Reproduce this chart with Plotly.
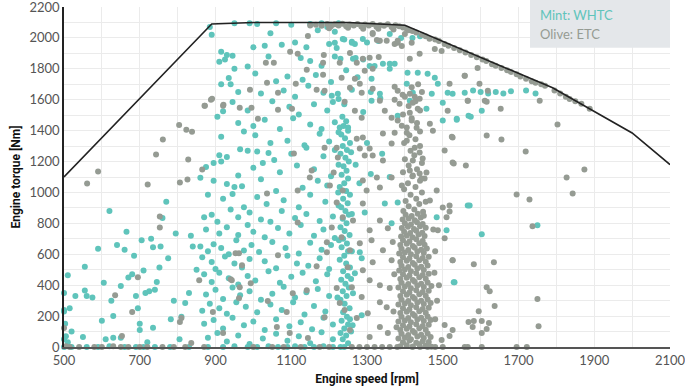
import plotly.graph_objects as go

# ---------------- data ----------------
# Full-load torque curve
fullload_speed = [500, 890, 1000, 1250, 1400, 1790, 2000, 2100]
fullload_torque = [1100, 2090, 2100, 2100, 2082, 1677, 1385, 1180]

# WHTC (mint) operating points: (speed rpm, torque Nm)
whtc_main = [
    (885,2070),(890,2020),(950,2095),(990,2095),(1010,2090),(1060,2095),(1100,2085),(1150,2090),(1180,2095),(1205,2085),(1225,2095),(1045,2030),(1170,2050),(1195,2070),(1215,2040),
    (915,1910),(930,1890),(945,1885),(1000,1940),(1030,1950),(1075,1955),(1110,1970),(1140,1940),(1200,1960),(1220,1935),(1240,1990),(1260,1975),
    (910,1845),(925,1860),(950,1800),(985,1815),(1040,1880),(1125,1870),(1150,1850),(1180,1820),(1215,1880),(1230,1865),(1270,1870),(1290,1860),
    (935,1740),(1005,1770),(1060,1720),(1090,1750),(1130,1730),(1165,1760),(1205,1715),(1245,1790),(1275,1745),
    (915,1700),(940,1700),(960,1650),(1020,1640),(1080,1660),(1110,1620),(1145,1690),(1185,1645),(1225,1605),(1260,1665),(1310,1650),(1335,1610),
    (920,1525),(945,1585),(985,1530),(1050,1590),(1095,1555),(1120,1505),(1160,1570),(1195,1530),(1210,1585),(1240,1570),(1290,1520),
    (905,1490),(960,1450),(1000,1430),(1030,1470),(1070,1410),(1105,1480),(1150,1440),(1180,1410),(1215,1455),(1250,1420),
    (915,1360),(975,1395),(1005,1370),(1045,1320),(1090,1335),(1135,1305),(1175,1380),(1200,1330),(1225,1390),
    (910,1240),(930,1230),(965,1280),(985,1270),(1010,1265),(1040,1255),(1055,1210),(1100,1250),(1140,1290),(1185,1235),(1215,1275),
    (875,1165),(895,1190),(915,1200),(960,1110),(1000,1160),(1025,1190),(1070,1130),(1115,1175),(1160,1150),(1205,1105),
    (860,1095),(895,1075),(930,1055),(950,1035),(970,1040),(1020,1085),(1060,1010),(1130,1030),(1170,1075),(1195,1045),
    (880,985),(920,960),(945,990),(975,905),(1010,970),(1035,925),(1080,950),(1120,905),(1150,985),(1190,940),(1225,915),
    (870,840),(890,855),(905,810),(940,890),(960,840),(990,870),(1020,825),(1045,810),(1075,880),(1110,835),(1140,860),(1175,815),(1210,845),
    (875,760),(910,735),(930,775),(960,725),(985,790),(1000,745),(1030,710),(1065,770),(1095,735),(1125,790),(1160,720),(1185,760),(1215,705),
    (860,650),(880,620),(895,665),(915,640),(935,600),(955,690),(975,625),(995,660),(1015,615),(1050,680),(1085,640),(1120,605),(1150,675),(1180,630),(1205,660),
    (865,580),(890,550),(900,505),(925,585),(950,540),(970,515),(990,570),(1030,555),(1060,510),(1090,590),(1115,540),(1145,525),(1175,575),(1200,505),
    (870,470),(890,420),(910,480),(935,445),(960,405),(985,460),(1005,430),(1040,490),(1070,415),(1100,455),(1130,480),(1165,425),(1195,470),
    (875,340),(900,370),(920,310),(945,385),(965,335),(990,360),(1020,305),(1050,345),(1080,390),(1110,320),(1140,355),(1170,375),(1200,330),
    (865,235),(885,280),(910,250),(930,215),(955,290),(980,260),(1010,225),(1045,275),(1075,240),(1105,290),(1135,210),(1160,265),(1190,230),
    (870,150),(895,175),(920,120),(945,190),(975,140),(1000,165),(1030,110),(1060,180),(1095,135),(1125,160),(1155,115),(1185,190),(1210,145),
    (880,60),(905,90),(930,35),(960,75),(990,20),(1025,55),(1060,85),(1090,40),(1120,70),(1150,25),(1180,95),(1210,50),
    (920,0),(950,5),(985,0),(1010,0),(1040,5),(1065,0),(1090,0),(1110,5),(1135,0),(1160,0),(1185,5),(1210,0),(1230,0),
]
whtc_column = [
    (1235,1490),(1245,1460),(1238,1430),(1250,1400),(1232,1375),(1242,1350),(1255,1320),(1236,1300),(1247,1275),(1230,1250),
    (1243,1225),(1252,1200),(1238,1170),(1246,1140),(1233,1115),(1250,1090),(1240,1060),(1228,1035),(1245,1010),(1255,985),
    (1237,960),(1249,930),(1232,905),(1243,880),(1252,855),(1236,830),(1246,800),(1230,775),(1241,750),(1254,725),
    (1237,700),(1247,670),(1233,645),(1250,620),(1240,590),(1228,565),(1245,540),(1255,515),(1237,490),(1249,460),
    (1232,435),(1243,410),(1252,385),(1236,360),(1246,330),(1230,305),(1241,280),(1254,250),(1237,225),(1247,195),
    (1233,170),(1250,145),(1240,120),(1258,100),(1245,75),(1236,50),(1250,25),(1240,0),(1262,140),(1222,320),(1260,620),(1225,1180),
    (1258,440),(1226,690),(1260,860),(1224,1000),(1258,1260),(1228,1420),(1255,180),(1230,90),
]
whtc_low = [
    (500,350),(500,230),(500,240),(503,150),(505,70),(500,50),(510,465),(515,250),(520,100),(530,330),(555,520),(555,365),
    (560,330),(575,320),(590,635),(605,415),(620,880),(625,300),(630,200),(640,660),(650,395),(660,630),(665,745),(670,450),
    (680,470),(685,590),(690,330),(695,250),(700,150),(705,690),(710,495),(715,350),(725,360),(730,700),(735,645),(740,370),
    (745,420),(752,515),(755,650),(760,835),(770,940),(775,575),(782,180),(790,300),(795,735),(805,50),(810,195),(820,285),
    (830,350),(835,720),(840,650),(850,500),(510,30),(550,65),(610,50),(630,60),(700,110),(720,30),(735,125),(600,170),(650,60),
    (500,0),(520,0),(560,0),(590,0),(620,5),(660,0),(690,0),(710,0),(740,0),(780,0),(830,0),(880,0),
]
whtc_high = [
    (1215,1968),(1236,1993),(1260,1968),(1268,1961),(1289,1993),(1263,1865),(1307,1819),(1320,1819),(1342,1832),(1360,1832),
    (1373,1832),(1360,1800),(1312,1735),(1407,1774),(1434,1774),(1460,1768),(1479,1742),(1487,1703),(1471,1639),(1513,1645),
    (1526,1639),(1558,1645),(1405,1703),(1421,1645),(1413,1594),(1457,1542),(1537,1477),(1568,1497),(1500,1465),(1381,1497),
    (1312,1594),(1334,1639),(1207,1626),(1223,1639),(1300,1970),(1330,1980),(1360,2025),(1390,2000),(1420,2000),(1440,2010),
    (1580,1660),(1600,1650),(1620,1640),(1640,1650),(1660,1640),(1680,1655),(1720,1660),(1745,1640),(1500,1580),(1603,1529),
    (1574,1490),(1537,1471),(1347,929),(1381,935),(1294,871),(1365,800),(1484,839),(1510,755),(1281,613),(1286,574),
    (1268,477),(1263,348),(1286,206),(1531,419),(1566,916),(1571,916),(1750,787),(1603,729),(1529,419),(1300,1320),(1340,1250),
    (1270,1180),(1310,1120),(1280,1060),(1360,1100),
]

# ETC (olive) operating points
etc_cluster = [
    (1388,5),(1405,12),(1421,3),(1438,18),(1455,8),(1470,2),
    (1395,30),(1412,42),(1430,27),(1447,38),(1463,33),
    (1383,55),(1400,62),(1416,50),(1433,68),(1450,58),(1468,64),
    (1391,85),(1409,78),(1426,92),(1443,80),(1460,88),
    (1388,110),(1405,118),(1421,104),(1438,122),(1455,112),
    (1395,140),(1412,132),(1430,148),(1447,136),(1463,144),(1378,128),
    (1383,165),(1400,172),(1416,160),(1433,178),(1450,168),(1468,174),
    (1391,195),(1409,188),(1426,202),(1443,190),(1460,198),
    (1388,220),(1405,228),(1421,214),(1438,232),(1455,222),
    (1395,250),(1412,242),(1430,258),(1447,246),(1463,254),
    (1383,275),(1400,282),(1416,270),(1433,288),(1450,278),(1468,284),
    (1391,305),(1409,298),(1426,312),(1443,300),(1460,308),
    (1388,330),(1405,338),(1421,324),(1438,342),(1455,332),
    (1395,360),(1412,352),(1430,368),(1447,356),(1463,364),
    (1383,385),(1400,392),(1416,380),(1433,398),(1450,388),(1470,394),
    (1391,415),(1409,408),(1426,422),(1443,410),(1460,418),
    (1388,440),(1405,448),(1421,434),(1438,452),(1455,442),
    (1395,470),(1412,462),(1430,478),(1447,466),(1463,474),
    (1385,495),(1400,502),(1416,490),(1433,508),(1450,498),
    (1391,525),(1409,518),(1426,532),(1443,520),(1460,528),
    (1388,550),(1405,558),(1421,544),(1438,562),(1455,552),
    (1395,580),(1412,572),(1430,588),(1447,576),(1463,584),
    (1385,605),(1400,612),(1416,600),(1433,618),(1450,608),
    (1391,635),(1409,628),(1426,642),(1443,630),(1458,638),
    (1388,660),(1405,668),(1421,654),(1438,672),(1452,662),
    (1395,690),(1412,682),(1430,698),(1447,686),
    (1390,715),(1405,722),(1420,710),(1436,728),(1452,718),
    (1398,745),(1414,738),(1430,752),(1446,740),
    (1392,770),(1408,778),(1424,764),(1440,782),(1455,772),
    (1400,800),(1416,792),(1432,808),(1447,796),
    (1394,825),(1410,832),(1426,820),(1442,838),
    (1402,855),(1418,848),(1434,862),(1450,850),
    (1396,880),(1425,890),(1448,875),(1410,910),(1438,925),(1402,945),(1430,960),(1455,940),(1415,985),(1445,1000),
    (1398,1020),(1428,1035),(1408,1060),(1440,1075),(1420,1105),(1395,1130),(1432,1150),(1410,1175),(1445,1190),(1400,1215),
    (1425,1240),(1415,1270),(1440,1300),(1398,1320),(1428,1345),(1412,1370),(1440,1395),(1405,1420),(1432,1450),(1418,1480),
    (1395,1505),(1440,1530),(1410,1560),(1428,1590),(1400,1620),(1445,1650),(1418,1680),(1435,1700),
]
etc_fullload = [
    (1150,2080),(1165,2085),(1180,2078),(1195,2090),(1205,2075),(1215,2088),(1225,2080),(1235,2092),(1245,2076),(1255,2086),
    (1265,2080),(1275,2090),(1285,2074),(1295,2086),(1305,2080),(1315,2090),(1325,2072),(1335,2084),(1345,2078),(1355,2088),
    (1365,2070),(1375,2082),(1385,2075),(1395,2068),(1405,2060),(1410,2050),(1420,2045),(1290,2060),(1330,2060),(1370,2055),
    (1250,2065),(1200,2062),
    (1430,2035),(1445,2020),(1455,2010),(1465,1995),(1480,1990),(1490,1980),(1505,1960),(1515,1950),(1530,1935),(1545,1920),
    (1560,1905),(1575,1890),(1590,1875),(1605,1860),(1615,1850),(1630,1830),(1640,1820),(1655,1805),(1670,1790),(1680,1780),
    (1695,1765),(1705,1750),(1720,1735),(1735,1720),(1745,1710),(1760,1700),(1770,1690),(1795,1660),(1810,1640),(1825,1620),
    (1835,1605),(1850,1590),(1866,1574),(1888,1542),
]
etc_mid = [
    (1315,2026),(1334,1981),(1381,1968),(1392,1948),(1418,1968),(1439,1897),(1479,1929),(1497,1916),(1413,1865),(1228,1839),
    (1255,1903),(1273,1839),(1289,1865),(1307,1871),(1331,1877),(1294,1787),(1315,1800),(1233,1742),(1268,1735),(1281,1703),
    (1286,1645),(1255,1677),(1315,1671),(1334,1594),(1373,1684),(1381,1658),(1394,1632),(1413,1639),(1426,1619),(1373,1600),
    (1386,1574),(1421,1581),(1439,1606),(1434,1542),(1413,1516),(1241,1587),(1268,1529),(1286,1484),(1347,1529),(1365,1484),
    (1381,1465),(1392,1432),(1418,1465),(1431,1419),(1405,1387),(1373,1387),(1405,1335),(1426,1290),(1439,1258),(1447,1219),
    (1421,1206),(1413,1142),(1439,1123),(1452,1090),(1342,1381),(1365,1316),(1307,1284),(1315,1239),(1342,1206),(1294,1239),
    (1273,1348),(1289,1355),(1281,1284),(1220,1290),(1223,1226),(1466,1445),(1474,1400),(1505,1271),(1526,1194),(1513,1529),
    (1558,1755),(1566,1594),(1526,1355),(1315,2032),(1326,1987),(1352,1981),(1373,1961),(1381,1981),(1400,2026),
    (1289,1077),(1334,1032),(1365,1097),(1392,1045),(1421,1110),(1444,1090),(1457,1129),(1466,948),(1484,1013),(1500,903),
    (1510,839),(1487,755),(1505,703),(1526,561),(1526,110),(1505,142),(1497,45),(1307,755),(1334,819),(1355,768),
    (1312,690),(1281,671),(1342,626),(1365,561),(1315,548),(1289,497),(1307,432),(1334,400),(1360,381),(1286,323),
    (1334,290),(1352,258),(1302,219),(1273,187),(1334,129),(1355,90),(1307,65),(1255,110),(1260,387),(1255,626),
    (1263,819),(1289,929),(1299,1013),(1326,1097),(1236,839),(1228,284),(1241,239),(1220,381),(1236,1013),(1233,710),
    (1249,516),(1478,480),(1485,300),(1480,620),(1372,470),(1370,230),(1368,680),(1480,180),(1490,400),(1475,760),
]
etc_right = [
    (1518,1703),(1558,1755),(1592,1806),(1597,1703),(1619,1658),(1566,1594),(1611,1594),(1616,1587),(1653,1542),(1756,1594),
    (1803,1439),(1524,1361),(1616,1368),(1655,1342),(1719,1265),(1529,1187),(1561,1174),(1874,1148),(1827,1097),(1843,994),
    (1695,987),(1729,955),(1518,916),(1518,877),(1737,781),(1526,561),(1582,535),(1635,548),(1616,387),(1624,361),
    (1750,310),(1637,265),(1595,232),(1568,161),(1582,168),(1603,168),(1622,155),(1579,129),(1616,116),(1603,90),
    (1753,135),(1518,71),(1558,0),(1566,0),(1603,0),(1695,0),(1722,0),
]
etc_left = [
    (561,1058),(590,1135),(721,1052),(743,1245),(761,1342),(804,1437),(823,1406),(838,1393),(828,1213),(806,1065),
    (826,1084),(865,1148),(871,1561),(888,1600),(921,1568),(500,123),(753,845),(753,774),(695,452),(635,335),
    (680,226),(653,71),(810,187),(806,161),(836,26),(857,432),(893,226),(940,439),(920,90),(953,606),
    (505,5),(515,0),(540,0),(580,0),(600,0),(630,5),(650,0),(670,0),(700,0),(720,0),(760,0),(790,0),(820,0),(870,0),
    (1033,1839),(1054,1839),(1036,1710),(991,1665),(891,1606),(872,1561),(920,1561),(964,1548),(995,1548),(1012,1477),
    (1065,1535),(1065,1645),(1097,1910),(1117,1897),(1144,2013),(1141,1794),(1112,1703),(1167,1665),(1188,1658),(1102,1542),
    (1186,1890),(1184,1839),(1184,1761),(1107,1252),(1154,1142),(1149,1097),(1188,1290),(1212,1129),
    (1036,994),(1117,1013),(1117,806),(962,606),(970,529),(943,432),(964,387),(993,413),(962,316),(1038,297),
    (1104,348),(1088,226),(1062,129),(1096,90),(1141,368),(1188,193),(1144,58),(1065,594),(1167,523),(1194,613),
    (1202,1045),(1220,935),(1207,774),(1194,677),
    (1000,0),(1050,0),(1080,0),(1125,0),(1175,0),(1200,0),(1260,0),(1280,0),(1300,0),(1320,0),(1340,0),(1360,0),
    (1380,0),(1420,0),(1440,0),(1460,0),(1480,0),(1500,0),
]

whtc_points = whtc_main + whtc_column + whtc_low + whtc_high
etc_points = etc_cluster + etc_fullload + etc_mid + etc_right + etc_left

x_tickvals = [500, 700, 900, 1100, 1300, 1500, 1700, 1900, 2100]
y_tickvals = [0, 200, 400, 600, 800, 1000, 1200, 1400, 1600, 1800, 2000, 2200]

MINT = "#5fc4bb"
OLIVE = "#959b93"

fig = go.Figure()
fig.add_trace(go.Scatter(
    x=[p[0] for p in whtc_points], y=[p[1] for p in whtc_points],
    mode="markers", name="WHTC", cliponaxis=False,
    marker=dict(color=MINT, size=6, line=dict(width=0)),
))
fig.add_trace(go.Scatter(
    x=[p[0] for p in etc_points], y=[p[1] for p in etc_points],
    mode="markers", name="ETC", cliponaxis=False,
    marker=dict(color=OLIVE, size=6, line=dict(width=0)),
))
fig.add_trace(go.Scatter(
    x=fullload_speed, y=fullload_torque, mode="lines", name="Full load",
    line=dict(color="#222222", width=1.6), cliponaxis=False,
))

tick_font = dict(family="Lato, Open Sans, sans-serif", size=13, color="#555555")
title_font = dict(family="Liberation Sans Narrow, Roboto, sans-serif", size=12, color="#111111")

fig.update_layout(
    width=685, height=388,
    margin=dict(l=64, r=15, t=7, b=41),
    paper_bgcolor="white", plot_bgcolor="white",
    showlegend=False,
    xaxis=dict(
        range=[500, 2100], tickfont=tick_font,
        tickmode="array", tickvals=x_tickvals,
        showgrid=True, gridcolor="#ebebeb", gridwidth=1,
        minor=dict(dtick=100, tick0=500, showgrid=True, gridcolor="#ebebeb"),
        showline=True, linecolor="#555555", linewidth=2,
        zeroline=False, ticks="", ticklen=0, automargin=False,
        ticklabeloverflow="allow",
        title=dict(text="<b>Engine speed [rpm]</b>", font=title_font, standoff=8),
    ),
    yaxis=dict(
        range=[0, 2200],
        tickmode="array", tickvals=y_tickvals,
        tickfont=tick_font,
        showgrid=True, gridcolor="#ebebeb", gridwidth=1,
        minor=dict(dtick=100, tick0=0, showgrid=True, gridcolor="#ebebeb"),
        showline=True, linecolor="#222222", linewidth=1.5,
        zeroline=False, ticks="", ticklen=0, automargin=False,
        ticklabeloverflow="allow",
        title=dict(text="<b>Engine torque [Nm]</b>", font=title_font, standoff=6),
    ),
)

# legend box
fig.add_shape(type="rect", xref="paper", yref="paper",
              x0=0.769, x1=1.0, y0=0.88, y1=1.021,
              fillcolor="#e4e7ea", line=dict(width=0), layer="above")
fig.add_annotation(xref="paper", yref="paper", x=0.783, y=0.976, xanchor="left", yanchor="middle",
                   text="Mint: WHTC", showarrow=False,
                   font=dict(family="Lato, Open Sans, sans-serif", size=13, color=MINT))
fig.add_annotation(xref="paper", yref="paper", x=0.783, y=0.921, xanchor="left", yanchor="middle",
                   text="Olive: ETC", showarrow=False,
                   font=dict(family="Lato, Open Sans, sans-serif", size=13, color=OLIVE))

fig.write_html("out.html",
               config={"displayModeBar": False},
               post_script="document.body.style.margin='0';document.body.style.padding='0';")
